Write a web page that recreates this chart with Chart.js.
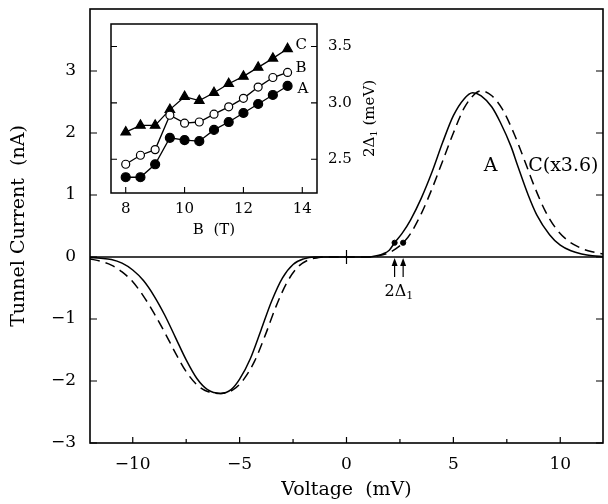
<!DOCTYPE html>
<html>
<head>
<meta charset="utf-8">
<script src="https://cdn.jsdelivr.net/npm/chart.js@4.4.1/dist/chart.umd.min.js"></script>
<style>
  html, body { margin: 0; padding: 0; background: #fff; }
  #wrap { position: relative; width: 608px; height: 504px; }
  #main { position: absolute; left: 0; top: 0; }
  #inset { position: absolute; left: 100px; top: 15px; }
</style>
</head>
<body>
<div id="wrap">
  <canvas id="main" width="608" height="504"></canvas>
  <canvas id="inset" width="290" height="235"></canvas>
</div>
<script>
// main panel: tunnel current vs voltage
const voltageA = [-12, -11.5, -11, -10.5, -10, -9.5, -9, -8.5, -8, -7.5, -7, -6.5, -5.9, -5.4, -5, -4.5, -4, -3.5, -3, -2.5, -2, -1.5, -1, 0, 1, 1.4, 1.7, 2, 2.25, 2.6, 3, 3.5, 4, 4.5, 5, 5.5, 5.9, 6.3, 6.8, 7.2, 7.7, 8, 8.5, 8.9, 9.5, 10, 10.5, 11, 11.5, 12];
const currentA = [-0.01, -0.02, -0.04, -0.1, -0.21, -0.38, -0.63, -0.94, -1.3, -1.66, -1.96, -2.14, -2.2, -2.14, -1.97, -1.64, -1.18, -0.71, -0.34, -0.12, -0.03, 0, 0, 0, 0, 0.02, 0.05, 0.11, 0.23, 0.38, 0.6, 0.95, 1.37, 1.85, 2.28, 2.55, 2.65, 2.6, 2.42, 2.17, 1.78, 1.48, 1.0, 0.68, 0.36, 0.19, 0.1, 0.05, 0.02, 0.01];
const voltageC = [-12, -11.5, -11, -10.5, -10, -9.5, -9, -8.5, -8, -7.5, -7, -6.5, -5.85, -5.3, -4.8, -4.3, -3.8, -3.3, -2.8, -2.3, -1.8, -1.3, -1, 0, 1, 1.5, 2, 2.3, 2.65, 3, 3.5, 4, 4.5, 5, 5.5, 6, 6.3, 6.8, 7.3, 7.85, 8.37, 8.8, 9.3, 9.8, 10.3, 10.8, 11.3, 12];
const currentC = [-0.03, -0.07, -0.13, -0.24, -0.4, -0.63, -0.91, -1.22, -1.55, -1.85, -2.06, -2.17, -2.2, -2.14, -1.97, -1.68, -1.26, -0.8, -0.42, -0.17, -0.05, -0.01, 0, 0, 0, 0.02, 0.07, 0.13, 0.23, 0.38, 0.7, 1.1, 1.55, 2.0, 2.4, 2.63, 2.68, 2.6, 2.38, 1.98, 1.52, 1.13, 0.74, 0.46, 0.28, 0.17, 0.1, 0.05];
const gapVoltage = [2.25, 2.65];
const gapCurrent = [0.23, 0.23];
const xTicks = [-10, -5, 0, 5, 10];
const xMinorTicks = [-7.5, -2.5, 2.5, 7.5];
const yTicks = [-3, -2, -1, 0, 1, 2, 3];

// inset: gap vs field
const fieldB = [8, 8.5, 9, 9.5, 10, 10.5, 11, 11.5, 12, 12.5, 13, 13.5];
const gapA = [2.34, 2.34, 2.455, 2.69, 2.67, 2.66, 2.76, 2.83, 2.91, 2.99, 3.07, 3.15];
const gapB = [2.455, 2.535, 2.585, 2.89, 2.82, 2.83, 2.9, 2.965, 3.04, 3.14, 3.225, 3.27];
const gapC = [2.74, 2.8, 2.8, 2.94, 3.055, 3.02, 3.09, 3.17, 3.235, 3.315, 3.395, 3.48];
const insetXTicks = [8, 10, 12, 14];
const insetYTicks = [2.5, 3.0, 3.5];

const SERIF = "'DejaVu Serif', serif";
const minus = v => String(v).replace('-', '\u2212');
const xy = (xs, ys) => xs.map((v, i) => ({x: v, y: ys[i]}));
const noPadX = s => { s.paddingLeft = 0; s.paddingRight = 0; };
const noPadY = s => { s.paddingTop = 0; s.paddingBottom = 0; };

const mainDecor = {
  id: 'mainDecor',
  afterDatasetsDraw(chart) {
    const {ctx, chartArea: a, scales: {x, y}} = chart;
    const y0 = y.getPixelForValue(0);
    ctx.save();
    ctx.strokeStyle = '#000';
    ctx.lineWidth = 1.6;
    ctx.strokeRect(a.left, a.top, a.right - a.left, a.bottom - a.top);
    ctx.beginPath();
    ctx.moveTo(a.left, y0);
    ctx.lineTo(a.right, y0);
    ctx.stroke();

    ctx.lineWidth = 1.2;
    ctx.beginPath();
    xTicks.forEach(v => {
      const px = x.getPixelForValue(v);
      ctx.moveTo(px, a.bottom); ctx.lineTo(px, a.bottom - 6);
    });
    xMinorTicks.forEach(v => {
      const px = x.getPixelForValue(v);
      ctx.moveTo(px, a.bottom); ctx.lineTo(px, a.bottom - 4);
    });
    yTicks.forEach(v => {
      const py = y.getPixelForValue(v);
      ctx.moveTo(a.left, py); ctx.lineTo(a.left + 7, py);
      ctx.moveTo(a.right, py); ctx.lineTo(a.right - 7, py);
    });
    const xz = x.getPixelForValue(0);
    ctx.moveTo(xz, y0 - 7); ctx.lineTo(xz, y0 + 7);
    ctx.stroke();

    // 2Δ1 arrows
    ctx.fillStyle = '#000';
    ctx.lineWidth = 1.2;
    gapVoltage.forEach(v => {
      const px = x.getPixelForValue(v);
      ctx.beginPath();
      ctx.moveTo(px, y0 + 20); ctx.lineTo(px, y0 + 4);
      ctx.stroke();
      ctx.beginPath();
      ctx.moveTo(px, y0 + 1); ctx.lineTo(px - 3, y0 + 9); ctx.lineTo(px + 3, y0 + 9);
      ctx.closePath();
      ctx.fill();
    });
    const gx = (x.getPixelForValue(gapVoltage[0]) + x.getPixelForValue(gapVoltage[1])) / 2;
    ctx.font = '16px ' + SERIF;
    ctx.textBaseline = 'middle';
    ctx.textAlign = 'left';
    const w1 = ctx.measureText('2\u0394').width;
    ctx.font = '11px ' + SERIF;
    const w2 = ctx.measureText('1').width;
    const sx = gx - (w1 + w2) / 2;
    ctx.font = '16px ' + SERIF;
    ctx.fillText('2\u0394', sx, y0 + 35);
    ctx.font = '11px ' + SERIF;
    ctx.fillText('1', sx + w1, y0 + 39);

    // curve labels
    ctx.font = '19px ' + SERIF;
    ctx.textAlign = 'center';
    ctx.fillText('A', x.getPixelForValue(6.74), y.getPixelForValue(1.47));
    ctx.textAlign = 'left';
    ctx.fillText('C(x3.6)', x.getPixelForValue(8.5), y.getPixelForValue(1.47));
    ctx.restore();
  }
};

new Chart(document.getElementById('main'), {
  type: 'line',
  data: {
    datasets: [
      {label: 'A', data: xy(voltageA, currentA), borderColor: '#000', borderWidth: 1.5,
       pointRadius: 0, cubicInterpolationMode: 'monotone', fill: false},
      {label: 'C (x3.6)', data: xy(voltageC, currentC), borderColor: '#000', borderWidth: 1.5,
       borderDash: [10, 6], pointRadius: 0, cubicInterpolationMode: 'monotone', fill: false},
      {label: '2Δ1', data: xy(gapVoltage, gapCurrent), showLine: false, pointRadius: 2.6,
       pointBackgroundColor: '#000', pointBorderColor: '#000'}
    ]
  },
  options: {
    responsive: false,
    animation: false,
    layout: {padding: {top: 9, right: 4}},
    plugins: {legend: {display: false}, tooltip: {enabled: false}},
    scales: {
      x: {
        type: 'linear', min: -12, max: 12,
        afterBuildTicks: s => { s.ticks = xTicks.map(v => ({value: v})); },
        afterFit: s => { s.height = 61; noPadX(s); },
        grid: {display: false, drawTicks: false},
        border: {display: false},
        ticks: {color: '#000', font: {family: SERIF, size: 17}, padding: 11, maxRotation: 0,
                callback: v => minus(v)},
        title: {display: true, text: 'Voltage  (mV)', color: '#000',
                font: {family: SERIF, size: 19}, padding: {top: 0, bottom: 3}}
      },
      y: {
        min: -3, max: 4,
        afterBuildTicks: s => { s.ticks = yTicks.map(v => ({value: v})); },
        afterFit: s => { s.width = 90; noPadY(s); },
        grid: {display: false, drawTicks: false},
        border: {display: false},
        ticks: {color: '#000', font: {family: SERIF, size: 17}, padding: 14,
                callback: v => minus(v)},
        title: {display: true, text: 'Tunnel Current  (nA)', color: '#000',
                font: {family: SERIF, size: 19}, padding: {top: 8, bottom: 0}}
      }
    }
  },
  plugins: [mainDecor]
});

const insetDecor = {
  id: 'insetDecor',
  afterDatasetsDraw(chart) {
    const {ctx, chartArea: a, scales: {x, y}} = chart;
    ctx.save();
    ctx.strokeStyle = '#000';
    ctx.lineWidth = 1.5;
    ctx.strokeRect(a.left, a.top, a.right - a.left, a.bottom - a.top);
    ctx.lineWidth = 1.1;
    ctx.beginPath();
    insetXTicks.forEach(v => {
      const px = x.getPixelForValue(v);
      ctx.moveTo(px, a.bottom); ctx.lineTo(px, a.bottom - 6);
    });
    insetYTicks.forEach(v => {
      const py = y.getPixelForValue(v);
      ctx.moveTo(a.left, py); ctx.lineTo(a.left + 6, py);
      ctx.moveTo(a.right, py); ctx.lineTo(a.right - 6, py);
    });
    ctx.stroke();

    // series labels next to last points
    ctx.fillStyle = '#000';
    ctx.font = '15px ' + SERIF;
    ctx.textAlign = 'left';
    ctx.textBaseline = 'middle';
    const last = fieldB.length - 1;
    const lx = x.getPixelForValue(fieldB[last]);
    ctx.fillText('C', lx + 8, y.getPixelForValue(gapC[last]) - 4);
    ctx.fillText('B', lx + 8, y.getPixelForValue(gapB[last]) - 4);
    ctx.fillText('A', lx + 10, y.getPixelForValue(gapA[last]) + 3);

    // right axis title, reading upward
    ctx.save();
    ctx.translate(a.right + 53, (a.top + a.bottom) / 2 + 10);
    ctx.rotate(-Math.PI / 2);
    ctx.textAlign = 'left';
    ctx.font = '15px ' + SERIF;
    const t1 = '2\u0394', t2 = '1', t3 = ' (meV)';
    const w1 = ctx.measureText(t1).width;
    const w3 = ctx.measureText(t3).width;
    ctx.font = '10px ' + SERIF;
    const w2 = ctx.measureText(t2).width;
    const sx = -(w1 + w2 + w3) / 2;
    ctx.font = '15px ' + SERIF;
    ctx.fillText(t1, sx, 0);
    ctx.fillText(t3, sx + w1 + w2, 0);
    ctx.font = '10px ' + SERIF;
    ctx.fillText(t2, sx + w1, 4);
    ctx.restore();
    ctx.restore();
  }
};

const insetSeries = (label, data, style) => Object.assign({
  label, data: xy(fieldB, data), borderColor: '#000', borderWidth: 1.3,
  pointBorderColor: '#000', pointBorderWidth: 1.2, tension: 0, fill: false
}, style);

new Chart(document.getElementById('inset'), {
  type: 'line',
  data: {
    datasets: [
      insetSeries('A', gapA, {pointStyle: 'circle', pointRadius: 4.5, pointBackgroundColor: '#000'}),
      insetSeries('B', gapB, {pointStyle: 'circle', pointRadius: 4, pointBackgroundColor: '#fff'}),
      insetSeries('C', gapC, {pointStyle: 'triangle', pointRadius: 5.5, pointBackgroundColor: '#000'})
    ]
  },
  options: {
    responsive: false,
    animation: false,
    layout: {padding: {left: 11, top: 9}},
    plugins: {legend: {display: false}, tooltip: {enabled: false}},
    scales: {
      x: {
        type: 'linear', min: 7.5, max: 14.5,
        afterBuildTicks: s => { s.ticks = insetXTicks.map(v => ({value: v})); },
        afterFit: s => { s.height = 57; noPadX(s); },
        grid: {display: false, drawTicks: false},
        border: {display: false},
        ticks: {color: '#000', font: {family: SERIF, size: 15}, padding: 7, maxRotation: 0},
        title: {display: true, text: 'B  (T)', color: '#000',
                font: {family: SERIF, size: 15}, padding: {top: 0, bottom: 11}}
      },
      y: {
        position: 'right', min: 2.2, max: 3.7,
        afterBuildTicks: s => { s.ticks = insetYTicks.map(v => ({value: v})); },
        afterFit: s => { s.width = 73; noPadY(s); },
        grid: {display: false, drawTicks: false},
        border: {display: false},
        ticks: {color: '#000', font: {family: SERIF, size: 15}, padding: 11,
                callback: v => v.toFixed(1)}
      }
    }
  },
  plugins: [insetDecor]
});
</script>
</body>
</html>
